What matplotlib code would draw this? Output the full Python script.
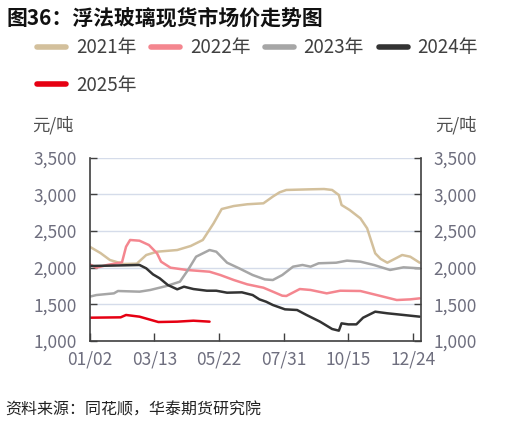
import matplotlib
matplotlib.use("Agg")
import matplotlib.pyplot as plt
from matplotlib.lines import Line2D
from matplotlib.ticker import FuncFormatter

plt.rcParams['font.family'] = ['Noto Sans CJK SC', 'DejaVu Sans']

# ---- data (trading-day index, price) ----
tick_pos = [0, 48, 96, 144, 192, 240]
tick_labels = ["01/02", "03/13", "05/22", "07/31", "10/15", "12/24"]

x_2021 = [0, 8, 15, 25, 35, 42, 50, 65, 75, 84, 92, 98, 107, 117, 129, 136, 141, 146,
          164, 174, 180, 185, 187, 193, 201, 206, 212, 216, 221, 232, 238, 245]
y_2021 = [2286, 2200, 2105, 2050, 2055, 2173, 2218, 2241, 2296, 2378, 2605, 2800, 2841,
          2865, 2878, 2970, 3028, 3060, 3069, 3073, 3060, 2991, 2855, 2787, 2673, 2537,
          2196, 2120, 2068, 2173, 2150, 2068]

x_2022 = [0, 5, 13, 24, 27, 30, 37, 44, 50, 53, 60, 72, 89, 97, 107, 117, 129, 136, 143,
          146, 156, 164, 176, 186, 201, 216, 228, 238, 245]
y_2022 = [2046, 2000, 2037, 2074, 2286, 2378, 2368, 2309, 2196, 2082, 2000, 1969, 1945,
          1900, 1832, 1773, 1727, 1673, 1618, 1614, 1709, 1696, 1650, 1686, 1682, 1614,
          1559, 1568, 1582]

x_2023 = [0, 5, 18, 21, 37, 45, 57, 67, 73, 79, 89, 94, 102, 111, 121, 130, 136, 143,
          151, 158, 164, 170, 183, 191, 201, 211, 223, 233, 245]
y_2023 = [1605, 1627, 1650, 1682, 1673, 1696, 1750, 1809, 1969, 2150, 2241, 2218, 2068,
          1991, 1900, 1840, 1832, 1900, 2014, 2037, 2014, 2060, 2068, 2096, 2082, 2037,
          1969, 2005, 1991]

x_2024 = [0, 15, 37, 42, 47, 52, 58, 65, 70, 77, 87, 94, 102, 113, 121, 126, 131, 136,
          145, 154, 161, 171, 180, 185, 187, 192, 198, 203, 212, 221, 231, 245]
y_2024 = [2023, 2028, 2037, 1991, 1909, 1855, 1764, 1705, 1741, 1709, 1686, 1686, 1659,
          1664, 1627, 1568, 1536, 1491, 1432, 1423, 1355, 1264, 1164, 1141, 1241, 1227,
          1227, 1318, 1400, 1378, 1359, 1332]

x_2025 = [0, 23, 27, 37, 51, 65, 77, 89]
y_2025 = [1318, 1323, 1355, 1332, 1259, 1264, 1277, 1264]

series = [
    ("2021年", x_2021, y_2021, "#d3c09c"),
    ("2022年", x_2022, y_2022, "#f4868f"),
    ("2023年", x_2023, y_2023, "#a6a6a6"),
    ("2024年", x_2024, y_2024, "#333333"),
    ("2025年", x_2025, y_2025, "#e60012"),
]

fig = plt.figure(figsize=(5.19, 4.26), dpi=100)
ax = fig.add_axes([0.1728, 0.1995, 0.6384, 0.4303])

for name, xs, ys, c in series:
    ax.plot(xs, ys, color=c, lw=1.8, solid_joinstyle='round', solid_capstyle='round')

ax.set_xlim(0, 246)
ax.set_ylim(1000, 3500)
ax.set_yticks([1000, 1500, 2000, 2500, 3000, 3500])
ax.yaxis.set_major_formatter(FuncFormatter(lambda v, p: f"{int(v):,}"))
ax.set_xticks(tick_pos)
ax.set_xticklabels(tick_labels)

ax.grid(axis='y', color='#d5dcea', lw=1.0)
ax.set_axisbelow(True)
for s in ['left', 'right', 'bottom']:
    ax.spines[s].set_color('#404040')
    ax.spines[s].set_linewidth(1.2)
ax.spines['top'].set_visible(False)

lab_col = '#6e6e7e'
ax.tick_params(axis='y', direction='in', length=5, width=1.0, color='#404040',
               labelsize=12.5, labelcolor=lab_col, pad=9,
               left=True, right=True, labelleft=True, labelright=True)
ax.tick_params(axis='x', direction='in', length=6, width=1.0, color='#404040',
               labelsize=12.5, labelcolor=lab_col, pad=7)

# legend: matplotlib fills column-wise, so order to get rows 2021-2024 / 2025
order = [0, 4, 1, 2, 3]
handles = [Line2D([], [], color=series[i][3], lw=4, solid_capstyle='round') for i in order]
labels = [series[i][0] for i in order]
fig.legend(handles, labels, loc='upper left', bbox_to_anchor=(0.072, 0.912), ncol=4,
           frameon=False, fontsize=13.5, handlelength=1.55, handletextpad=0.5,
           columnspacing=0.8, labelspacing=0.87, borderpad=0, borderaxespad=0,
           labelcolor='#404040')

fig.text(0.013, 0.958, "图36：浮法玻璃现货市场价走势图", fontsize=15, fontweight='bold',
         color='#111111', va='center', ha='left')
fig.text(0.061, 0.7066, "元/吨", fontsize=12.5, color='#505050', va='center', ha='left')
fig.text(0.838, 0.7066, "元/吨", fontsize=12.5, color='#505050', va='center', ha='left')
fig.text(0.01, 0.037, "资料来源：同花顺，华泰期货研究院", fontsize=11.5, color='#222222',
         va='center', ha='left')

fig.savefig("out.png", dpi=100)
